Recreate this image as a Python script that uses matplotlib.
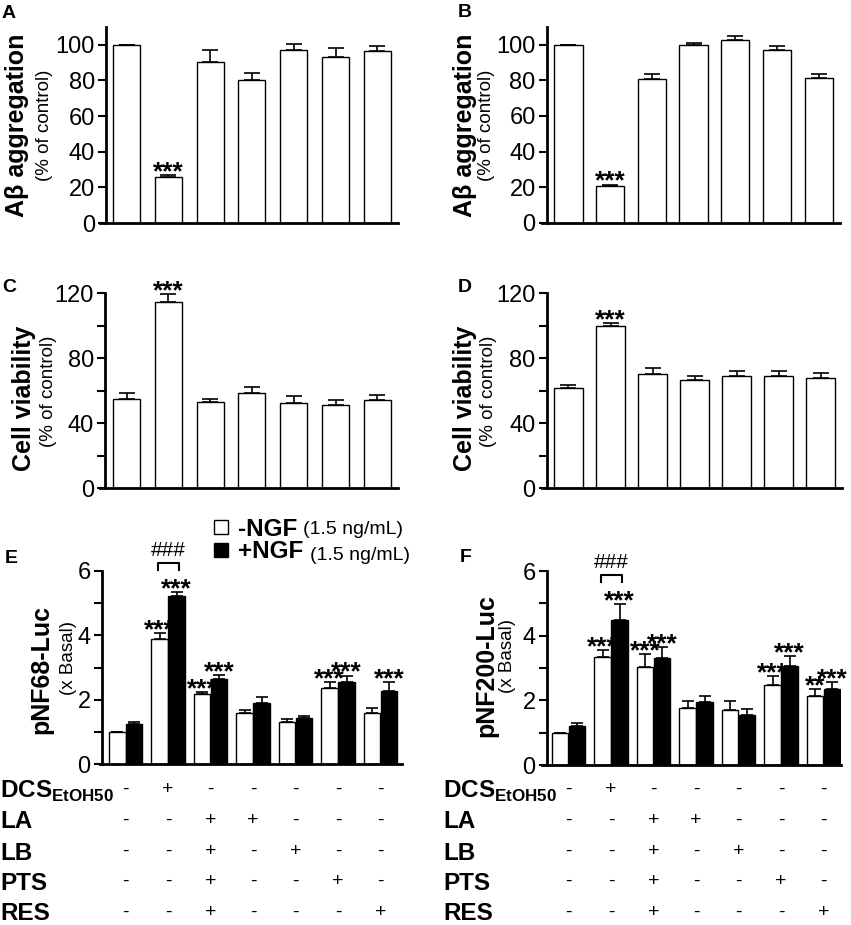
import numpy as np
import matplotlib
matplotlib.use("Agg")
import matplotlib.pyplot as plt
from matplotlib import transforms

plt.rcParams['font.family'] = ['Liberation Sans', 'DejaVu Sans']
plt.rcParams['mathtext.fontset'] = 'custom'
plt.rcParams['mathtext.rm'] = 'Liberation Sans'
plt.rcParams['mathtext.bf'] = 'Liberation Sans:bold'

# panel A / B : abeta aggregation (% of control)
a_vals = [100, 26, 90.5, 80, 97, 93, 96.5]
a_err = [0, 0.8, 6.5, 4.2, 3.4, 5.4, 3.1]
a_sig = ['', '***', '', '', '', '', '']
b_vals = [100, 20.8, 81, 99.8, 102.6, 97.2, 81.3]
b_err = [0, 0.6, 2.4, 1.0, 2.4, 2.1, 2.4]
b_sig = ['', '***', '', '', '', '', '']

# panel C / D : cell viability (% of control)
c_vals = [55.2, 114.5, 52.9, 58.9, 52.3, 51.3, 54.2]
c_err = [3.7, 5.1, 2.3, 3.3, 4.7, 2.9, 3.4]
c_sig = ['', '***', '', '', '', '', '']
d_vals = [61.7, 100.1, 70.6, 66.5, 69.1, 69.1, 68.1]
d_err = [2.1, 1.6, 3.7, 2.8, 3.3, 2.9, 2.7]
d_sig = ['', '***', '', '', '', '', '']

# panel E / F : reporter activity (x basal), -NGF / +NGF
e_minus = [1.0, 3.87, 2.18, 1.58, 1.32, 2.36, 1.60]
e_minus_err = [0, 0.21, 0.05, 0.10, 0.08, 0.18, 0.16]
e_minus_sig = ['', '***', '***', '', '', '***', '']
e_plus = [1.24, 5.23, 2.64, 1.91, 1.42, 2.54, 2.27]
e_plus_err = [0.07, 0.11, 0.13, 0.17, 0.09, 0.21, 0.29]
e_plus_sig = ['', '***', '***', '', '', '***', '***']

f_minus = [1.0, 3.34, 3.03, 1.77, 1.70, 2.46, 2.14]
f_minus_err = [0, 0.21, 0.39, 0.20, 0.27, 0.28, 0.20]
f_minus_sig = ['', '***', '***', '', '', '***', '**']
f_plus = [1.2, 4.48, 3.30, 1.94, 1.54, 3.05, 2.35]
f_plus_err = [0.09, 0.50, 0.36, 0.19, 0.18, 0.32, 0.21]
f_plus_sig = ['', '***', '***', '', '', '***', '***']

# treatment table
row_names = [r'$\mathbf{DCS}_{\mathbf{EtOH50}}$', 'LA', 'LB', 'PTS', 'RES']
dcs = ['-', '+', '-', '-', '-', '-', '-']
la = ['-', '-', '+', '+', '-', '-', '-']
lb = ['-', '-', '+', '-', '+', '-', '-']
pts = ['-', '-', '+', '-', '-', '+', '-']
res = ['-', '-', '+', '-', '-', '-', '+']

W, H = 851, 925
fig = plt.figure(figsize=(W / 100, H / 100), dpi=100)


def fx(px):
    return px / W


def fy(py):
    return 1 - py / H


def make_ax(xl, xr, yt, yb):
    return fig.add_axes([fx(xl), fy(yb), (xr - xl) / W, (yb - yt) / H])


def style(ax, spine_pos):
    for s in ['top', 'right']:
        ax.spines[s].set_visible(False)
    ax.spines['left'].set_linewidth(2)
    ax.spines['bottom'].set_linewidth(2)
    ax.spines['left'].set_position(('axes', spine_pos))
    ax.tick_params(axis='x', bottom=False, labelbottom=False)
    ax.tick_params(axis='y', direction='out', length=6, width=1.5, labelsize=17, pad=2)


def stars(ax, x, top, lab):
    if lab:
        ax.annotate(lab, xy=(x, top), xytext=(0, -3), textcoords='offset points',
                    ha='center', va='baseline', fontsize=19, fontweight='bold',
                    zorder=1, annotation_clip=False)


def single_panel(ax, vals, err, sig, width, xlim, ylim, ticks, labels, spine_pos):
    x = np.arange(len(vals))
    ax.bar(x, vals, width, color='white', edgecolor='black', linewidth=1, zorder=2)
    ax.errorbar(x, vals, yerr=[np.zeros(len(err)), err], fmt='none', ecolor='black',
                elinewidth=1.2, capsize=6, capthick=1.2, zorder=3)
    for i in range(len(vals)):
        stars(ax, x[i], vals[i] + err[i], sig[i])
    ax.set_xlim(*xlim)
    ax.set_ylim(*ylim)
    ax.set_yticks(ticks)
    ax.set_yticklabels(labels)
    style(ax, spine_pos)


def pair_panel(ax, vm, em, sm, vp, ep, sp, xlim, spine_pos):
    x = np.arange(len(vm))
    w = 0.39
    bm = ax.bar(x - 0.2, vm, w, color='white', edgecolor='black', linewidth=1, zorder=2)
    bp = ax.bar(x + 0.2, vp, w, color='black', edgecolor='black', linewidth=1, zorder=2)
    ax.errorbar(x - 0.2, vm, yerr=[np.zeros(len(em)), em], fmt='none', ecolor='black',
                elinewidth=1.2, capsize=4.5, capthick=1.2, zorder=3)
    ax.errorbar(x + 0.2, vp, yerr=[np.zeros(len(ep)), ep], fmt='none', ecolor='black',
                elinewidth=1.2, capsize=4.5, capthick=1.2, zorder=3)
    for i in range(len(vm)):
        stars(ax, x[i] - 0.2, vm[i] + em[i], sm[i])
        stars(ax, x[i] + 0.2, vp[i] + ep[i], sp[i])
    # bracket between -NGF and +NGF of the DCS group
    base = vp[1] + ep[1] + 0.67
    ax.plot([x[1] - 0.25, x[1] - 0.25, x[1] + 0.25, x[1] + 0.25],
            [base, base + 0.24, base + 0.24, base], color='black', lw=1.5,
            clip_on=False, zorder=3)
    ax.annotate('###', xy=(x[1], base + 0.24), xytext=(0, 5), textcoords='offset points',
                ha='center', va='baseline', fontsize=15, annotation_clip=False)
    ax.set_xlim(*xlim)
    ax.set_ylim(0, 6)
    ax.set_yticks(range(7))
    ax.set_yticklabels(['0', '', '2', '', '4', '', '6'])
    style(ax, spine_pos)
    return bm, bp


def ylabels(ax, main, sub, xm, xs, ym=0.5, ys=0.5):
    ax.text(xm, ym, main, transform=ax.transAxes, rotation=90, ha='center', va='center',
            fontsize=18, fontweight='bold')
    ax.text(xs, ys, sub, transform=ax.transAxes, rotation=90, ha='center', va='center',
            fontsize=13.5)


def table(ax, xlabel_px):
    tr = transforms.blended_transform_factory(ax.transData, fig.transFigure)
    rows = [dcs, la, lb, pts, res]
    ys = [789, 820, 851, 881, 912]
    for name, row, y in zip(row_names, rows, ys):
        fig.text(fx(xlabel_px), fy(y + 8.5), name, fontsize=17.5, fontweight='bold',
                 ha='left', va='baseline')
        for i, s in enumerate(row):
            ax.text(i, fy(y + 5), s, transform=tr, ha='center', va='baseline',
                    fontsize=14)


# A
axA = make_ax(100, 398, 27, 223)
single_panel(axA, a_vals, a_err, a_sig, 0.65, (-0.634, 6.495), (0, 110),
             range(0, 101, 20), [str(v) for v in range(0, 101, 20)], 0.02)
ylabels(axA, 'Aβ aggregation', '(% of control)', -0.279, -0.185)

# B
axB = make_ax(542, 840, 27, 222.7)
single_panel(axB, b_vals, b_err, b_sig, 0.68, (-0.635, 6.51), (0, 110),
             range(0, 101, 20), [str(v) for v in range(0, 101, 20)], 0.016)
ylabels(axB, 'Aβ aggregation', '(% of control)', -0.258, -0.185)

# C
cd_ticks = range(0, 121, 20)
cd_labels = ['0', '', '40', '', '80', '', '120']
axC = make_ax(100, 398, 293.3, 488.3)
single_panel(axC, c_vals, c_err, c_sig, 0.65, (-0.634, 6.495), (0, 120),
             cd_ticks, cd_labels, 0.017)
ylabels(axC, 'Cell viability', '(% of control)', -0.255, -0.174, 0.46, 0.495)

# D
axD = make_ax(542, 841.7, 293.3, 488.3)
single_panel(axD, d_vals, d_err, d_sig, 0.68, (-0.63, 6.5), (0, 120),
             cd_ticks, cd_labels, 0.016)
ylabels(axD, 'Cell viability', '(% of control)', -0.257, -0.18, 0.46, 0.495)

# E
axE = make_ax(100, 401.7, 570.7, 764.3)
bm, bp = pair_panel(axE, e_minus, e_minus_err, e_minus_sig, e_plus, e_plus_err,
                    e_plus_sig, (-0.606, 6.5), 0.006)
ylabels(axE, 'pNF68-Luc', '(x Basal)', -0.196, -0.103, 0.49, 0.55)

# F
axF = make_ax(542, 841, 571, 765)
pair_panel(axF, f_minus, f_minus_err, f_minus_sig, f_plus, f_plus_err,
           f_plus_sig, (-0.628, 6.41), 0.016)
ylabels(axF, 'pNF200-Luc', '(x Basal)', -0.185, -0.114, 0.51, 0.56)

# legend
leg = axE.legend([bm, bp], ['-NGF', '+NGF'], loc='center left',
                 bbox_to_anchor=(fx(214), fy(540.5)), bbox_transform=fig.transFigure,
                 frameon=False, handlelength=0.56, handleheight=0.56, handletextpad=0.42,
                 labelspacing=0.0, borderpad=0, borderaxespad=0,
                 prop={'weight': 'bold', 'size': 17.5})
fig.text(fx(303), fy(529), '(1.5 ng/mL)', fontsize=14, va='center', ha='left')
fig.text(fx(310), fy(556), '(1.5 ng/mL)', fontsize=14, va='center', ha='left')

# panel letters
for lab, px, py in [('A', 2, 18), ('B', 458, 17), ('C', 2, 292), ('D', 458, 292),
                    ('E', 5, 563), ('F', 460, 562)]:
    fig.text(fx(px), fy(py), lab, fontsize=14, fontweight='bold', ha='left', va='baseline')

table(axE, 0)
table(axF, 443)

fig.savefig('out.png', dpi=100)
